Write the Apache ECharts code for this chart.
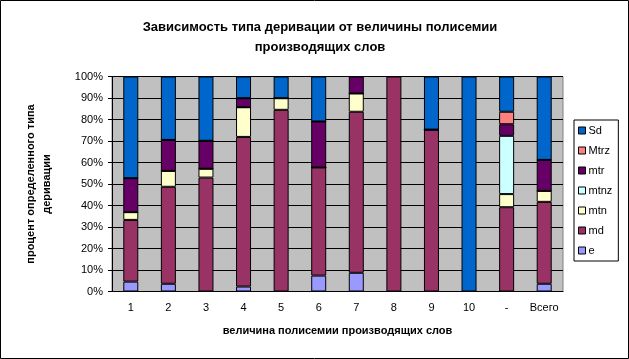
<!DOCTYPE html>
<html><head><meta charset="utf-8">
<script src="https://cdn.jsdelivr.net/npm/echarts@6/dist/echarts.min.js"></script>
<style>html,body{margin:0;padding:0;background:#fff}#c{width:629px;height:359px}</style>
</head><body><div id="c"></div>
<script>
const categories = ['1','2','3','4','5','6','7','8','9','10','-','Всего'];
const seriesNames = ['e','md','mtn','mtnz','mtr','Mtrz','Sd'];
const e    = [4.6, 3.6, 0,   2.3, 0,    7.4, 8.7, 0,   0,    0,   0,    3.6];
const md   = [28.7,45.1,53.0,69.6,84.5, 50.3,74.9,100, 75.3, 0,   39.2, 38.1];
const mtn  = [3.6, 7.4, 4.1, 13.8,5.4,  0,   8.5, 0,   0,    0,   6.1,  5.1];
const mtnz = [0,   0,   0,   0,   0,    0,   0,   0,   0,    0,   27.1, 0];
const mtr  = [15.8,14.4,13.0,4.2, 0,    21.4,7.9, 0,   0,    0,   5.4,  14.4];
const Mtrz = [0,   0,   0,   0,   0,    0,   0,   0,   0,    0,   5.8,  0];
const Sd   = [47.3,29.5,29.9,10.1,10.1, 20.9,0,   0,   24.7, 100, 16.4, 38.8];
const values = [e, md, mtn, mtnz, mtr, Mtrz, Sd];
const colors = ['#9999FF','#993366','#FFFFCC','#CCFFFF','#660066','#FF8080','#0066CC'];
const yTicks = [0,10,20,30,40,50,60,70,80,90,100];

const chart = echarts.init(document.getElementById('c'));
const font = 'Arial, "Liberation Sans", sans-serif';
chart.setOption({
  animation: false,
  backgroundColor: '#fff',
  title: {
    text: 'Зависимость типа деривации от величины полисемии\nпроизводящих слов',
    left: 315, top: 12, textAlign: 'center',
    textStyle: {fontFamily: font, fontSize: 13, fontWeight: 'bold', color: '#000', lineHeight: 20}
  },
  graphic: [{type: 'rect', shape: {x: 0.5, y: 0.5, width: 628, height: 358}, style: {fill: 'none', stroke: '#000', lineWidth: 1}, z: 100}],
  legend: {
    orient: 'vertical', left: 574, top: 120,
    data: seriesNames.slice().reverse(),
    itemWidth: 7, itemHeight: 7, itemGap: 9,
    icon: 'rect',
    borderColor: '#000', borderWidth: 1, padding: [5, 6, 5, 4],
    textStyle: {fontFamily: font, fontSize: 11, color: '#000', padding: [0,0,0,-2]},
    itemStyle: {borderColor: '#000', borderWidth: 1}
  },
  grid: {left: 112, right: 66, top: 76.5, bottom: 67.5, show: true, backgroundColor: '#C0C0C0', borderColor: '#808080', borderWidth: 1},
  xAxis: {
    type: 'category', data: categories,
    name: 'величина полисемии производящих слов', nameLocation: 'middle', nameGap: 34,
    nameTextStyle: {fontFamily: font, fontSize: 11, fontWeight: 'bold', color: '#000'},
    axisLine: {lineStyle: {color: '#000'}},
    axisTick: {length: 4, lineStyle: {color: '#000'}},
    axisLabel: {fontFamily: font, fontSize: 11, color: '#000', margin: 11}
  },
  yAxis: {
    type: 'value', min: 0, max: 100, interval: 10,
    name: 'процент определенного типа\nдеривации', nameLocation: 'middle', nameGap: 57, nameRotate: 90,
    nameTextStyle: {fontFamily: font, fontSize: 11, fontWeight: 'bold', color: '#000', lineHeight: 16},
    axisLine: {show: true, lineStyle: {color: '#000'}},
    axisTick: {show: true, length: 4, lineStyle: {color: '#000'}},
    axisLabel: {fontFamily: font, fontSize: 11, color: '#000', margin: 9, formatter: v => yTicks.includes(v) ? v + '%' : ''},
    splitLine: {lineStyle: {color: '#000', width: 1}}
  },
  series: seriesNames.map((n, i) => ({
    name: n, type: 'bar', stack: 'all', data: values[i],
    barWidth: 15,
    itemStyle: {color: colors[i], borderColor: '#000', borderWidth: 1}
  }))
});
</script></body></html>
